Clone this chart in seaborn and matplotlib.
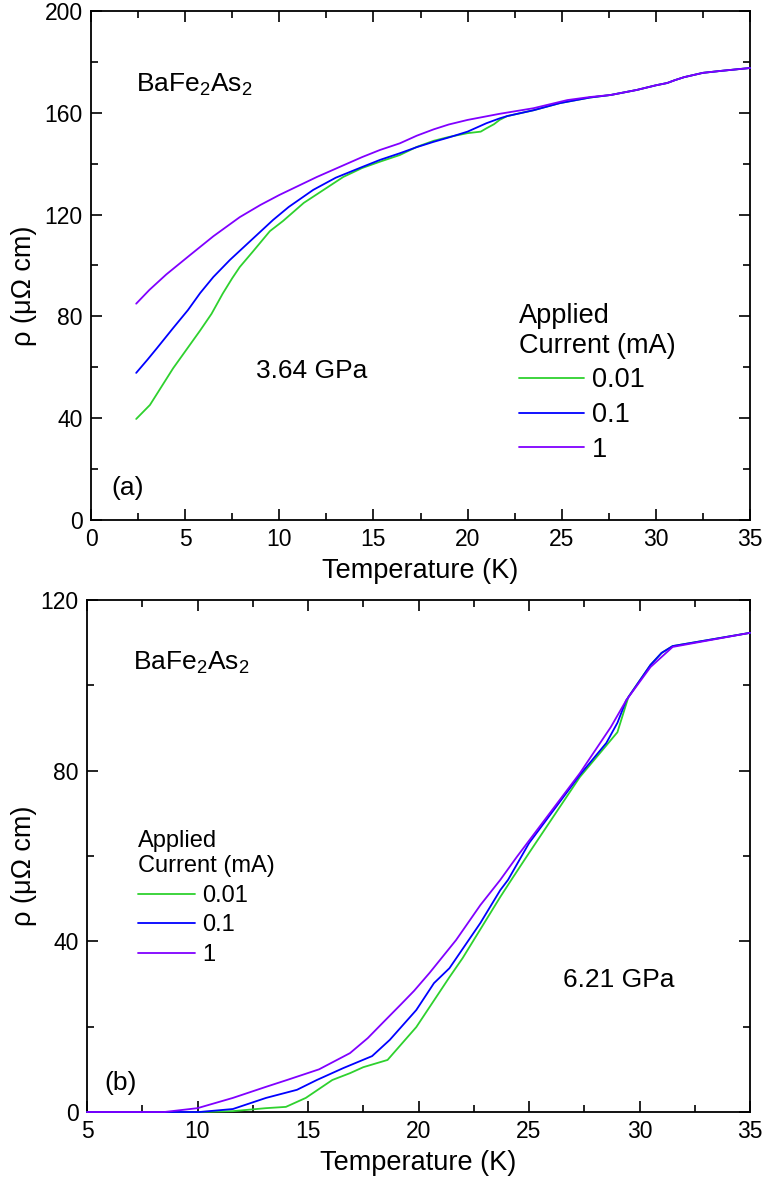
import numpy as np
import pandas as pd
import seaborn as sns
import matplotlib
matplotlib.use('Agg')
from matplotlib import pyplot as plt
from matplotlib.ticker import MultipleLocator

# Données : panneau (a) 3.64 GPa
T_a_001 = [2.4, 3.13, 4.36, 5.8, 6.4, 7.0, 7.5, 7.9, 8.6, 9.5, 10.2, 11.3, 12.0, 13.4, 14.4, 15.35,
           16.4, 17.3, 18.2, 19.0, 20.0, 20.7, 21.0, 21.4, 21.7, 22.1, 23.5, 24.9, 26.5,
           27.6, 29.0, 30.0, 30.6, 31.0, 31.5, 32.5, 33.5, 35.0]
rho_a_001 = [39.7, 45.2, 59.6, 74.5, 81.0, 89.0, 95.0, 99.4, 105.5, 113.5, 117.5, 124.6, 128.0,
             134.8, 138.3, 140.8, 143.4, 146.6, 149.0, 150.5, 152.0, 152.6, 153.9, 155.5, 157.2,
             158.7, 161.0, 163.8, 166.0, 167.0, 169.0, 170.8, 171.7, 172.8, 174.0, 175.7, 176.5,
             177.6]

T_a_01 = [2.4, 3.0, 3.5, 4.36, 5.15, 5.8, 6.5, 7.38, 8.4, 9.67, 10.5, 11.8, 13.0, 14.4, 15.35,
          16.4, 17.3, 18.2, 19.0, 20.0, 21.0, 21.7, 22.1, 23.5, 24.9, 26.5, 27.6, 29.0, 30.0,
          30.6, 31.0, 31.5, 32.5, 33.5, 35.0]
rho_a_01 = [57.8, 63.0, 67.5, 75.4, 82.5, 89.2, 95.5, 102.2, 109.2, 117.9, 123.0, 129.7, 134.5,
            138.7, 141.5, 144.1, 146.5, 148.6, 150.3, 152.6, 155.9, 157.8, 158.7, 161.0, 163.8,
            166.0, 167.0, 169.0, 170.8, 171.7, 172.8, 174.0, 175.7, 176.5, 177.6]

T_a_1 = [2.4, 3.1, 4.0, 5.26, 6.5, 7.9, 9.0, 10.0, 12.0, 14.4, 15.35, 16.4, 17.3,
         18.2, 19.0, 20.0, 21.7, 23.5, 25.3, 26.5, 27.6, 29.0, 30.0, 30.6, 31.0, 31.5, 32.5,
         33.5, 35.0]
rho_a_1 = [85.0, 90.4, 96.5, 104.1, 111.5, 119.0, 123.8, 127.7, 134.8, 142.6, 145.4, 148.0, 151.0,
           153.5, 155.4, 157.2, 159.6, 161.8, 165.0, 166.2, 167.0, 169.0, 170.8, 171.7, 172.8,
           174.0, 175.7, 176.5, 177.6]

# Données : panneau (b) 6.21 GPa
T_b_001 = [5.0, 9.0, 10.0, 11.6, 13.1, 14.0, 14.9, 16.1, 16.9, 17.5, 18.6, 19.9, 21.4, 22.0,
           23.7, 24.2, 25.0, 27.3, 29.0, 29.5, 30.5, 31.0, 31.5, 35.0]
rho_b_001 = [0.0, 0.0, 0.0, 0.2, 0.9, 1.2, 3.3, 7.5, 9.1, 10.5, 12.2, 19.9, 31.6, 36.1, 50.4,
             54.4, 60.7, 78.5, 89.0, 97.3, 104.8, 107.6, 109.2, 112.3]

T_b_01 = [5.0, 9.0, 10.1, 11.6, 13.1, 14.5, 15.4, 16.6, 17.9, 18.7, 19.9, 20.7, 21.4, 22.8,
          23.7, 24.05, 25.0, 27.3, 28.5, 29.0, 29.4, 30.5, 31.0, 31.5, 35.0]
rho_b_01 = [0.0, 0.0, 0.0, 0.7, 3.3, 5.2, 7.5, 10.3, 13.1, 16.9, 23.9, 30.2, 33.7, 44.3, 52.0,
            54.4, 63.0, 79.0, 86.5, 91.2, 96.5, 104.8, 107.6, 109.2, 112.3]

T_b_1 = [5.0, 8.5, 10.0, 11.6, 13.1, 14.05, 15.5, 16.9, 17.7, 18.4, 19.2, 19.8, 20.5, 21.7,
         22.8, 23.7, 24.45, 27.3, 28.7, 29.4, 30.5, 31.5, 35.0]
rho_b_1 = [0.0, 0.0, 0.9, 3.3, 5.9, 7.5, 10.0, 13.8, 17.3, 21.0, 25.2, 28.4, 32.6, 40.3,
           48.5, 54.4, 59.8, 79.4, 90.2, 96.5, 104.3, 109.0, 112.3]

courants = ['0.01', '0.1', '1']
couleurs = {'0.01': '#2ed12e', '0.1': '#0000ff', '1': '#8000ff'}


def to_df(series):
    frames = []
    for lab, (t, r) in zip(courants, series):
        frames.append(pd.DataFrame({'T': t, 'rho': r, 'courant': lab}))
    return pd.concat(frames, ignore_index=True)


df_a = to_df([(T_a_001, rho_a_001), (T_a_01, rho_a_01), (T_a_1, rho_a_1)])
df_b = to_df([(T_b_001, rho_b_001), (T_b_01, rho_b_01), (T_b_1, rho_b_1)])

sns.set_style('ticks')
plt.rcParams['font.family'] = ['Liberation Sans', 'DejaVu Sans']
plt.rcParams['mathtext.default'] = 'regular'
plt.rcParams['text.color'] = 'black'
plt.rcParams['axes.labelcolor'] = 'black'

fig = plt.figure(figsize=(7.66, 11.79), dpi=100)
ax_a = fig.add_axes([91 / 766, 1 - 520 / 1179, 659 / 766, 509 / 1179])
ax_b = fig.add_axes([87 / 766, 1 - 1112 / 1179, 663 / 766, 512 / 1179])


def style_axe(ax, xlim, ylim):
    ax.set_xlim(*xlim)
    ax.set_ylim(*ylim)
    ax.xaxis.set_major_locator(MultipleLocator(5))
    ax.xaxis.set_minor_locator(MultipleLocator(2.5))
    ax.yaxis.set_major_locator(MultipleLocator(40))
    ax.yaxis.set_minor_locator(MultipleLocator(20))
    ax.tick_params(which='both', direction='in', top=True, right=True, width=1.2, labelsize=16.5,
                   colors='black', pad=6)
    ax.tick_params(which='major', length=8)
    ax.tick_params(which='minor', length=5)
    for sp in ax.spines.values():
        sp.set_linewidth(1.3)
        sp.set_color('black')
        sp.set_zorder(1)
    ax.set_xlabel('Temperature (K)', fontsize=19.5, labelpad=0)
    ax.set_ylabel('ρ (μΩ cm)', fontsize=19.5)
    for ln in ax.get_lines():
        ln.set_clip_on(False)
        ln.set_zorder(3)


# Panneau (a)
sns.lineplot(data=df_a, x='T', y='rho', hue='courant', palette=couleurs, sort=False,
             estimator=None, linewidth=1.3, ax=ax_a)
style_axe(ax_a, (0, 35), (0, 200))
h, l = ax_a.get_legend_handles_labels()
ax_a.legend(h, l, title='Applied\nCurrent (mA)', loc='upper left', bbox_to_anchor=(0.649, 0.427),
            frameon=False, fontsize=19.5, title_fontsize=19.5, alignment='left', borderpad=0,
            borderaxespad=0, handlelength=2.4, handletextpad=0.3, labelspacing=0.32)
ax_a.text(2.39, 168.2, 'BaFe$_2$As$_2$', fontsize=19, va='baseline')
ax_a.text(8.76, 55.8, '3.64 GPa', fontsize=19, va='baseline')
ax_a.text(1.1, 9.8, '(a)', fontsize=19, va='baseline')
ax_a.xaxis.set_label_coords(0.5, -0.075)
ax_a.yaxis.set_label_coords(-0.082, 0.46)

# Panneau (b)
sns.lineplot(data=df_b, x='T', y='rho', hue='courant', palette=couleurs, sort=False,
             estimator=None, linewidth=1.3, ax=ax_b)
style_axe(ax_b, (5, 35), (0, 120))
h, l = ax_b.get_legend_handles_labels()
ax_b.legend(h, l, title='Applied\nCurrent (mA)', loc='upper left', bbox_to_anchor=(0.077, 0.551),
            frameon=False, fontsize=17, title_fontsize=17, alignment='left', borderpad=0,
            borderaxespad=0, handlelength=2.4, handletextpad=0.3, labelspacing=0.32)
ax_b.text(7.08, 103.6, 'BaFe$_2$As$_2$', fontsize=19, va='baseline')
ax_b.text(26.54, 29.3, '6.21 GPa', fontsize=19, va='baseline')
ax_b.text(5.77, 5.2, '(b)', fontsize=19, va='baseline')
ax_b.xaxis.set_label_coords(0.5, -0.075)
ax_b.yaxis.set_label_coords(-0.075, 0.48)

fig.savefig('out.png', dpi=100)
